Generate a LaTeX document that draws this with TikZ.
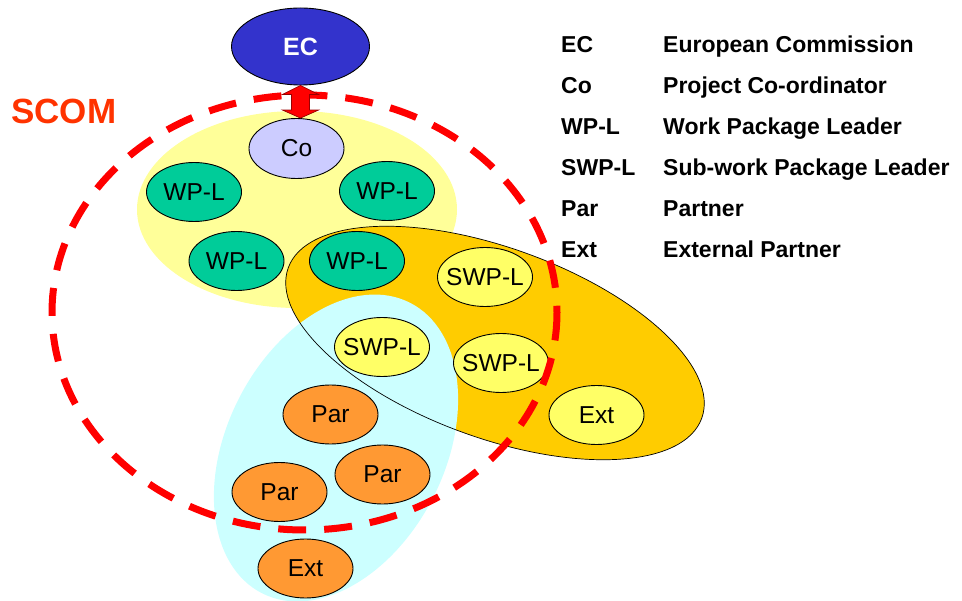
\documentclass[tikz,border=0pt]{standalone}
\usepackage{fontspec}
\setmainfont{Liberation Sans}
\usetikzlibrary{calc,shapes.geometric}

\definecolor{ecblue}{HTML}{3333CC}
\definecolor{colilac}{HTML}{CCCCFF}
\definecolor{wpgreen}{HTML}{00CC99}
\definecolor{swpyellow}{HTML}{FFFF66}
\definecolor{parorange}{HTML}{FF9933}
\definecolor{zoneyellow}{HTML}{FFFF99}
\definecolor{zoneorange}{HTML}{FFCC00}
\definecolor{zonecyan}{HTML}{CCFFFF}
\definecolor{scomred}{HTML}{FF3300}
\definecolor{dashred}{HTML}{FF0000}
\definecolor{arrowedge}{HTML}{990000}

\begin{document}
\begin{tikzpicture}[x=1pt,y=-1pt,
  member/.style={ellipse, draw=black, line width=0.9pt, inner xsep=-6pt, inner ysep=0pt,
    minimum width=95pt, minimum height=59pt,
    font=\fontsize{24.5}{28}\selectfont},
  wpl/.style={member, fill=wpgreen},
  swpl/.style={member, fill=swpyellow},
  partner/.style={member, fill=parorange},
  legkey/.style={anchor=base west, inner sep=0pt,
    font=\fontsize{23}{27}\selectfont\bfseries},
  legtext/.style={legkey},
  scomline/.style={draw=dashred, line width=7pt, dash pattern=on 28pt off 18pt}]
\useasboundingbox (0,0) rectangle (962,601);

% background zones
\fill[zoneyellow] (297,209.5) ellipse [x radius=160, y radius=98.5];
\fill[zoneorange, rotate around={-20:(495,343)}] (495,343) ellipse [x radius=220, y radius=95];
\fill[zonecyan, rotate around={-27:(336,448)}] (336,448) ellipse [x radius=109, y radius=163];
\draw[black, line width=0.7pt, rotate around={-20:(495,343)}] (495,343) ellipse [x radius=220, y radius=95];

% European Commission and co-ordinator
\node[ellipse, draw=black, line width=0.9pt, fill=ecblue, inner sep=0pt,
      minimum width=138pt, minimum height=77pt, text=white,
      font=\fontsize{25}{28}\selectfont\bfseries] (ec) at (300.5,46.5) {EC};
\node[member, fill=colilac, minimum height=60pt] (co) at (296.5,148.5) {Co};

% work package leaders
\node[wpl] (wp1) at (194,192) {WP-L};
\node[wpl] (wp2) at (387,191) {WP-L};
\node[wpl] (wp3) at (236.5,261) {WP-L};
\node[wpl] (wp4) at (357,261) {WP-L};

% sub-work package leaders and external partner
\node[swpl] (swp1) at (485,277) {SWP-L};
\node[swpl] (swp2) at (382,347) {SWP-L};
\node[swpl] (swp3) at (501,363) {SWP-L};
\node[swpl] (ext1) at (596.5,415) {Ext};

% partners
\node[partner] (par1) at (330.5,414.5) {Par};
\node[partner] (par2) at (279.5,492) {Par};
\node[partner] (par3) at (382.5,474.5) {Par};
\node[partner] (ext2) at (305.5,568.5) {Ext};

% SCOM boundary
\draw[scomline] (304.5,312.5) ellipse [x radius=252.5, y radius=217.5];
\node[anchor=base west, inner sep=0pt, text=scomred,
      font=\fontsize{35}{40}\selectfont\bfseries] (scom) at (11,124) {SCOM};

% double arrow between EC and Co
\coordinate (at) at (ec.south);
\coordinate (ab) at (ec.south |- co.north);
\filldraw[fill=dashred, draw=arrowedge, line width=0.7pt]
  (at) -- ($(at)+(18,9)$) -- ($(at)+(9,9)$) -- ($(ab)+(9,-8)$)
  -- ($(ab)+(18,-8)$) -- (ab) -- ($(ab)+(-18,-8)$) -- ($(ab)+(-9,-8)$)
  -- ($(at)+(-9,9)$) -- ($(at)+(-18,9)$) -- cycle;

% legend
\node[legkey] (k1) at (561,53) {EC};
\node[legtext] (t1) at (663,53) {European Commission};
\node[legkey] (k2) at (561,94) {Co};
\node[legtext] (t2) at (663,94) {Project Co-ordinator};
\node[legkey] (k3) at (561,135) {WP-L};
\node[legtext] (t3) at (663,135) {Work Package Leader};
\node[legkey] (k4) at (561,176) {SWP-L};
\node[legtext] (t4) at (663,176) {Sub-work Package Leader};
\node[legkey] (k5) at (561,217) {Par};
\node[legtext] (t5) at (663,217) {Partner};
\node[legkey] (k6) at (561,258) {Ext};
\node[legtext] (t6) at (663,258) {External Partner};
\end{tikzpicture}
\end{document}
